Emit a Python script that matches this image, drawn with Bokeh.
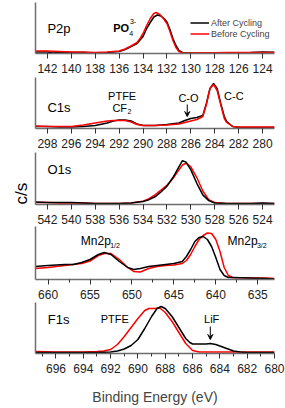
from bokeh.plotting import figure
from bokeh.layouts import column
from bokeh.models import Range1d, FixedTicker, Label, Legend, LegendItem, Arrow, VeeHead, Title
from bokeh.embed import file_html
from bokeh.resources import INLINE

# ---------------- data (intensity in arbitrary units) ----------------
p2p_e_after = [143, 142, 141.5, 141, 140, 139, 138, 137, 136, 135.5, 135, 134.5, 134.25, 134, 133.7, 133.4, 133.1,
               132.8, 132.5, 132.2, 132, 131.75, 131.5, 131.25, 131, 130.7, 130, 129, 128, 127, 126, 125, 124, 123]
p2p_after = [1.5, 1.5, 0.5, 1.5, 1, 1, 0.5, 1, 2, 4, 7, 10, 13.5, 17, 25, 31, 36.5,
             38.5, 37.5, 34.5, 31.5, 24, 15, 8, 3, 1, 0.5, 0.5, 0.8, 0.5, 0.8, 1, 1.5, 1.2]
p2p_e_before = [143, 142, 141, 140, 139, 138, 137, 136, 135.5, 135, 134.5, 134.25, 134, 133.7, 133.4, 133.1, 132.9,
                132.6, 132.3, 132, 131.75, 131.5, 131.25, 131, 130.7, 130, 129, 128, 127, 126, 125, 124, 123]
p2p_before = [2.5, 2.5, 2, 1.5, 1.5, 1, 1.5, 2.5, 4.5, 7.5, 11, 15, 20, 28, 35, 40, 41,
              39, 35, 30, 22, 13, 6, 2, 0.8, 0.5, 0.8, 0.8, 1, 1, 1, 1, 1]

c1s_e = [299, 298, 297, 296, 295, 294, 293, 292.5, 292, 291.5, 291, 290.5, 290, 289, 288, 287, 286.5, 286,
         285.5, 285, 284.7, 284.4, 284.1, 283.8, 283.5, 283.2, 283, 282.5, 282, 281, 280, 279]
c1s_after = [2, 2, 1.5, 1.5, 2, 3, 5.5, 7.5, 8.5, 8.5, 7.5, 4.5, 3, 3, 4, 5.5, 8, 10,
             11, 13, 25, 40, 45, 40, 25, 12, 7, 2, 1, 1, 1, 1]
c1s_before = [2.5, 2, 2, 2, 3.5, 5.5, 7.5, 8, 8, 8, 6.5, 4, 3, 3, 3.5, 4.5, 6, 7.5,
              9, 12, 24, 40, 44, 38, 24, 10, 6, 2, 1.5, 1.5, 1.5, 1.5]

o1s_e = [543, 542, 541, 540, 539, 538, 537, 536, 535, 534, 533.5, 533, 532.5, 532, 531.5, 531, 530.7,
         530.4, 530, 529.5, 529, 528.5, 528, 527, 526, 525, 524, 523]
o1s_after = [2.5, 2, 2, 2, 1.5, 1, 1, 1, 1.5, 3, 5, 8, 13, 19, 28, 39, 45.5,
             44, 36, 22, 10, 4, 1.5, 1, 1, 1, 1.5, 1]
o1s_before = [2, 2, 1.5, 1.5, 1.5, 1, 1, 1, 1.5, 3.5, 6, 10, 15, 20, 27, 36, 41,
              43, 39, 28, 14, 5, 2, 1, 1, 1, 1, 1]

mn_e = [661.5, 660, 658, 657, 656, 655, 654, 653.3, 652.5, 651.5, 650.5, 649.8, 649, 648, 647, 646, 645,
        644, 643.5, 643, 642.5, 642, 641.5, 641, 640.5, 640, 639.5, 639, 638.5, 638, 636, 634, 633]
mn_after = [13, 14, 15, 15, 17, 20, 25, 27, 25, 18, 12, 10, 11, 13, 14, 15, 16,
            18, 23, 30, 38, 42, 43, 40, 33, 22, 10, 4, 2, 2, 1.5, 1, 0.5]
mn_before = [11, 12, 14, 15, 16, 18.5, 24, 26, 26, 20, 12, 8, 7.5, 11, 13, 14, 14.5,
             16, 19, 25, 33, 40, 44, 46.5, 46, 40, 28, 12, 4, 2, 1.5, 1.5, 1]

f1s_e_after = [697.5, 696, 694, 693, 692, 691.5, 691, 690.5, 690, 689.5, 689, 688.6, 688.3, 688, 687.5, 687,
               686.5, 686.2, 686, 685.5, 685, 684.7, 684.3, 684, 683.5, 683, 682.5, 682, 681, 680]
f1s_after = [1, 1, 1, 1, 1.5, 2.5, 4.5, 8, 14, 25, 37, 45, 47, 45, 37, 26,
             15, 11, 9.5, 9.5, 9.5, 10, 9, 7.5, 5, 2.5, 1.5, 1, 1, 1]
f1s_e_before = [697.5, 696, 694, 693, 692.5, 692, 691.5, 691, 690.5, 690, 689.5, 689.2, 688.8, 688.4, 688,
                687.5, 687, 686.5, 686, 685.5, 685, 684, 683, 682, 681, 680]
f1s_before = [2, 1.5, 1.5, 2, 2.5, 4, 9, 17, 26, 35, 43, 45, 45, 45.5, 41,
              32, 21, 10, 3, 1.5, 1.5, 1.5, 1.5, 1.5, 1.5, 1.5]

# tick positions
p2p_ticks = [142, 140, 138, 136, 134, 132, 130, 128, 126, 124]
c1s_ticks = [298, 296, 294, 292, 290, 288, 286, 284, 282, 280]
o1s_ticks = [542, 540, 538, 536, 534, 532, 530, 528, 526, 524]
mn_ticks = [660, 655, 650, 645, 640, 635]
f1s_ticks = [696, 694, 692, 690, 688, 686, 684, 682, 680]

FONT = "Liberation Sans"
AXC = "#6e6e6e"


def panel(xlo, xhi, ticks, minor, ytop, height, top, bottom, xlabel=None):
    p = figure(width=285, height=height, output_backend="svg", toolbar_location=None, title=None,
               x_range=Range1d(xlo, xhi), y_range=Range1d(0, ytop),
               min_border_left=35, min_border_right=11, min_border_top=top, min_border_bottom=bottom)
    p.outline_line_color = None
    p.xgrid.visible = False
    p.ygrid.visible = False
    xa = p.xaxis[0]
    xa.ticker = FixedTicker(ticks=ticks, minor_ticks=minor)
    xa.axis_line_color = AXC
    xa.axis_line_width = 1.5
    xa.major_tick_line_color = "#333333"
    xa.minor_tick_line_color = "#333333"
    xa.major_tick_out = 5
    xa.major_tick_in = 0
    xa.minor_tick_out = 3
    xa.minor_tick_in = 0
    xa.major_label_standoff = 5
    xa.major_label_text_font = FONT
    xa.major_label_text_font_size = "12px"
    xa.major_label_text_color = "#222222"
    if xlabel:
        xa.axis_label = xlabel
        xa.axis_label_text_font = FONT
        xa.axis_label_text_font_size = "14px"
        xa.axis_label_text_font_style = "normal"
        xa.axis_label_standoff = 13
    ya = p.yaxis[0]
    ya.ticker = FixedTicker(ticks=[])
    ya.axis_line_color = AXC
    ya.axis_line_width = 1.5
    ya.major_tick_line_color = None
    ya.minor_tick_line_color = None
    ya.major_label_text_font_size = "0px"
    return p


def lab(p, x, y, text, size="13px", align="left", style="normal"):
    p.add_layout(Label(x=x, y=y, text=text, text_font_size=size, text_align=align,
                       text_baseline="middle", text_font=FONT, text_font_style=style,
                       text_color="black"))


def arrow(p, x, y0, y1):
    p.add_layout(Arrow(end=VeeHead(size=5, line_color="black", fill_color="black", line_width=1),
                       x_start=x, y_start=y0, x_end=x, y_end=y1, line_color="black", line_width=1))


# ---- P2p ----
p1 = panel(143, 123, p2p_ticks, [x + 1 for x in range(123, 143, 2)], 51, 77, 2, 24)
rb = p1.line(p2p_e_after, p2p_after, line_color="black", line_width=1.5)
rr = p1.line(p2p_e_before, p2p_before, line_color="red", line_width=1.5)
lab(p1, 142, 25, "P2p")
lab(p1, 136.5, 26, "PO", size="11px", style="bold")
lab(p1, 135.15, 20.5, "4", size="7px")
lab(p1, 135.1, 32.5, "3-", size="7px")
leg = Legend(items=[LegendItem(label="After Cycling", renderers=[rb]),
                    LegendItem(label="Before Cycling", renderers=[rr])],
             location=(155, 14), background_fill_alpha=0, border_line_color=None,
             padding=0, spacing=0, margin=0, glyph_width=19, glyph_height=11,
             label_height=11, label_standoff=2, label_text_font_size="9px",
             label_text_font=FONT, label_text_baseline="middle")
p1.add_layout(leg)

# ---- C1s ----
p2 = panel(299, 279, c1s_ticks, [x + 1 for x in range(279, 299, 2)], 51, 75, 0, 24)
p2.line(c1s_e, c1s_after, line_color="black", line_width=1.5)
p2.line(c1s_e, c1s_before, line_color="red", line_width=1.5)
lab(p2, 298, 21, "C1s")
lab(p2, 291.75, 33, "PTFE", size="11px", align="center")
lab(p2, 291.95, 21, "CF", size="11px", align="center")
lab(p2, 291.3, 17, "2", size="7px")
lab(p2, 286.2, 31, "C-O", size="11px", align="center")
lab(p2, 282.4, 33, "C-C", size="11px", align="center")
arrow(p2, 286.3, 24, 12)

# ---- O1s ----
p3 = panel(543, 523, o1s_ticks, [x + 1 for x in range(523, 543, 2)], 54, 74, 0, 20)
p3.line(o1s_e, o1s_before, line_color="red", line_width=1.5)
p3.line(o1s_e, o1s_after, line_color="black", line_width=1.5)
lab(p3, 542, 36, "O1s")
p3.add_layout(Title(text="c/s", align="left", offset=0, text_font=FONT, text_font_size="17px",
                    text_font_style="normal", text_color="black", standoff=9), "left")

# ---- Mn2p ----
p4 = panel(661.5, 633, mn_ticks, [657.5, 652.5, 647.5, 642.5, 637.5], 53, 76, 0, 23)
p4.line(mn_e, mn_before, line_color="red", line_width=1.5)
p4.line(mn_e, mn_after, line_color="black", line_width=1.5)
lab(p4, 656.1, 39, "Mn2p", size="12px")
lab(p4, 652.6, 34, "1/2", size="7px")
lab(p4, 638.6, 39, "Mn2p", size="12px")
lab(p4, 635.1, 34, "3/2", size="7px")

# ---- F1s ----
p5 = panel(697.5, 680, f1s_ticks, [x + 1 for x in range(680, 697, 2)], 51, 106, 0, 55,
           xlabel="Binding Energy (eV)")
p5.line(f1s_e_before, f1s_before, line_color="red", line_width=1.5)
p5.line(f1s_e_after, f1s_after, line_color="black", line_width=1.5)
lab(p5, 696.6, 34, "F1s")
lab(p5, 691.7, 35, "PTFE", size="11px", align="center")
lab(p5, 684.6, 35, "LiF", size="11px", align="center")
arrow(p5, 684.7, 27, 14)

layout = column(p1, p2, p3, p4, p5, spacing=0)
open("out.html", "w").write(file_html(layout, INLINE))
